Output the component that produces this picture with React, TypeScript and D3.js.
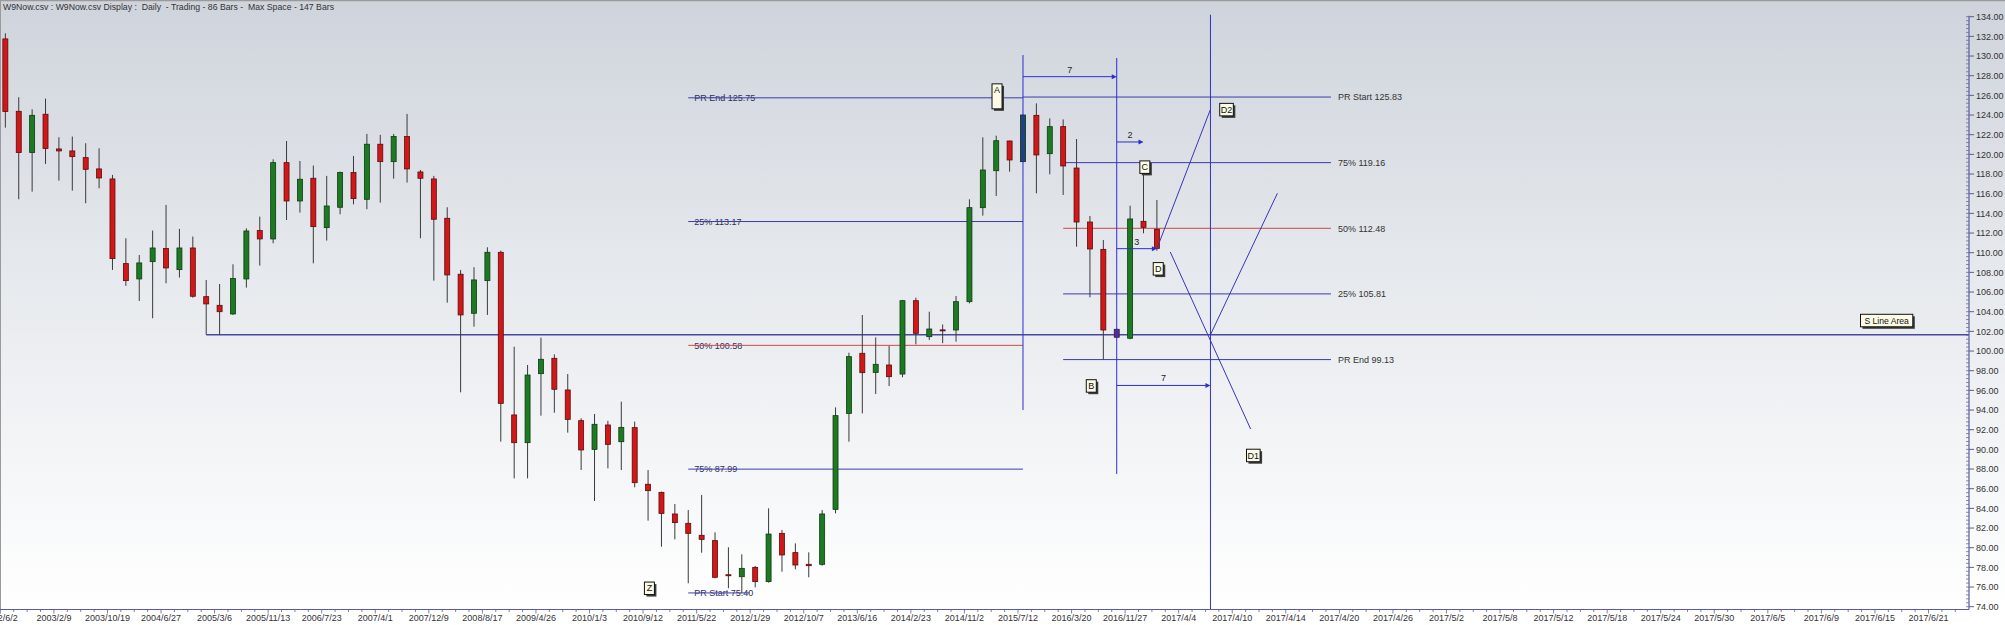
import React from "react";
import * as d3 from "d3";

// ---- price bars (one entry per bar) ----
const barOpen = [
  131.74, 124.38, 120.18, 124.08, 120.55, 120.35, 119.67, 118.52, 117.5, 108.89,
  107.33, 109.09, 110.42, 108.28, 110.48, 105.53, 104.65, 103.77, 107.33, 112.25,
  111.4, 119.16, 115.26, 117.57, 112.55, 114.62, 118.15, 115.43, 121.03, 119.26,
  121.81, 118.21, 117.5, 113.5, 107.81, 103.84, 107.16, 110.04, 93.5, 90.68,
  97.7, 99.26, 96.04, 92.92, 90.0, 92.48, 90.78, 92.21, 86.45, 85.63,
  83.43, 82.48, 81.26, 80.72, 77.25, 77.05, 78.0, 76.55, 81.46, 79.5,
  78.31, 78.31, 83.9, 93.66, 99.77, 97.83, 98.58, 97.66, 105.12, 101.46,
  102.15, 102.14, 105.02, 114.58, 118.34, 121.36, 119.26, 123.97, 120.07, 122.82,
  118.61, 113.12, 110.34, 102.21, 101.3, 113.19, 112.38,
];
const barHigh = [
  132.31, 125.81, 124.58, 125.67, 121.74, 121.81, 121.13, 120.62, 117.91, 111.47,
  109.77, 112.25, 114.86, 112.42, 111.64, 107.23, 106.82, 108.82, 112.48, 113.67,
  119.5, 121.36, 119.33, 118.86, 117.81, 118.25, 119.84, 122.08, 121.98, 122.08,
  124.11, 118.42, 117.81, 114.62, 108.25, 108.52, 110.55, 110.21, 100.44, 98.58,
  101.36, 99.66, 97.66, 93.16, 93.6, 92.9, 94.85, 92.82, 87.9, 85.7,
  84.44, 83.83, 85.36, 81.56, 80.04, 79.33, 78.14, 84.0, 81.8, 80.44,
  79.53, 83.83, 94.27, 99.83, 103.66, 101.39, 100.51, 105.2, 105.43, 104.0,
  102.7, 105.6, 115.43, 121.73, 121.9, 121.4, 124.07, 125.19, 123.66, 123.56,
  121.56, 113.73, 111.29, 102.3, 114.78, 117.9, 115.36,
];
const barLow = [
  122.72, 115.43, 116.21, 119.03, 117.33, 116.31, 115.03, 116.55, 108.25, 106.62,
  105.09, 103.33, 106.89, 107.47, 105.43, 101.66, 101.66, 103.67, 106.45, 108.69,
  110.96, 113.33, 114.08, 108.92, 111.23, 113.91, 114.92, 114.42, 115.09, 117.53,
  117.13, 111.47, 107.16, 104.92, 95.8, 102.48, 103.67, 90.78, 87.05, 87.05,
  93.43, 93.73, 91.7, 87.9, 84.75, 88.07, 87.9, 86.14, 82.75, 80.1,
  80.85, 76.38, 79.49, 76.89, 75.87, 75.4, 75.97, 76.45, 77.56, 77.8,
  76.99, 78.17, 83.49, 90.78, 93.66, 95.63, 96.44, 97.33, 100.68, 101.12,
  100.8, 100.95, 104.85, 113.77, 115.77, 118.24, 119.2, 116.04, 117.97, 115.87,
  110.61, 105.46, 99.13, 101.3, 101.2, 111.97, 110.2,
];
const barClose = [
  124.35, 120.18, 123.97, 120.59, 120.35, 119.77, 118.48, 117.6, 109.4, 107.16,
  108.96, 110.48, 108.45, 110.48, 105.57, 104.79, 104.0, 107.37, 112.21, 111.4,
  119.16, 115.26, 117.47, 112.65, 114.75, 118.15, 115.5, 121.03, 119.26, 121.81,
  118.52, 117.57, 113.4, 107.74, 103.67, 107.23, 110.04, 94.68, 90.68, 97.56,
  99.16, 96.11, 93.05, 89.94, 92.55, 90.51, 92.24, 86.61, 85.8, 83.49,
  82.55, 81.46, 80.85, 76.99, 77.15, 77.9, 76.55, 81.39, 79.26, 78.24,
  78.17, 83.43, 93.43, 99.43, 97.8, 98.65, 97.39, 105.12, 101.8, 102.24,
  102.05, 105.02, 114.58, 118.41, 121.39, 119.43, 124.0, 119.94, 122.82, 118.82,
  113.12, 110.38, 102.14, 101.4, 113.43, 112.58, 110.44,
];

// bars drawn in a highlight colour
const highlightBars = [76, 83];

// ---- axes ----
const totalBars = 147;
const labelEvery = 4;
const dateLabels = [
  "2002/6/2", "2003/2/9", "2003/10/19", "2004/6/27", "2005/3/6", "2005/11/13",
  "2006/7/23", "2007/4/1", "2007/12/9", "2008/8/17", "2009/4/26", "2010/1/3",
  "2010/9/12", "2011/5/22", "2012/1/29", "2012/10/7", "2013/6/16", "2014/2/23",
  "2014/11/2", "2015/7/12", "2016/3/20", "2016/11/27", "2017/4/4", "2017/4/10",
  "2017/4/14", "2017/4/20", "2017/4/26", "2017/5/2", "2017/5/8", "2017/5/12",
  "2017/5/18", "2017/5/24", "2017/5/30", "2017/6/5", "2017/6/9", "2017/6/15",
  "2017/6/21",
];
const priceMin = 74;
const priceMax = 134;
const priceStep = 2;
const priceMinorStep = 0.4;

// ---- retracement sets ----
const leftFibNames = ["PR End 125.75", "25% 113.17", "50% 100.58", "75% 87.99", "PR Start 75.40"];
const leftFibValues = [125.75, 113.17, 100.58, 87.99, 75.4];
const leftFibStartBar = 51;
const leftFibEndBars = [76, 76, 76, 76, 55.6];

const rightFibNames = ["PR Start 125.83", "75% 119.16", "50% 112.48", "25% 105.81", "PR End 99.13"];
const rightFibValues = [125.83, 119.16, 112.48, 105.81, 99.13];
const rightFibStartBars = [76, 79, 79, 79, 79];
const rightFibEndBar = 99;

// ---- support line ----
const sLineValue = 101.66;
const sLineStartBar = 15;

// ---- time markers ----
const markerBars = [76, 83, 90];
const markerTops = [130.1, 129.8, 134.2];
const markerBottoms = [94.0, 87.5, 74];

// ---- bar-count arrows ----
const arrowFromBars = [76, 83, 83, 83];
const arrowToBars = [83, 85, 86, 90];
const arrowValues = [127.9, 121.26, 110.41, 96.5];

// ---- projection lines: [bar, price] pairs ----
const projectionStarts = [[86, 110.41], [87, 110.07], [90, 101.66]];
const projectionEnds = [[90, 124.58], [93, 92.07], [95, 116.04]];

// ---- point tags ----
const tagNames = ["A", "B", "C", "D", "D1", "D2", "Z", "S Line Area"];
const tagBars = [74.06, 81.1, 85.1, 86.1, 93.2, 91.2, 48.1, 140.5];
const tagValues = [125.9, 96.45, 118.7, 108.36, 89.38, 124.55, 75.87, 103.1];
const tagRows = [2, 1, 1, 1, 1, 1, 1, 1];

const titleText =
  "W9Now.csv : W9Now.csv Display :  Daily  - Trading - 86 Bars -  Max Space - 147 Bars";

const FONT = "'Liberation Sans', Arial, Helvetica, sans-serif";

export default function App() {
  const width = 2005;
  const height = 625;
  const plotRight = 1969;
  const axisY = 609.5;

  const x = d3.scaleLinear().domain([-0.4, 146.65]).range([0, plotRight]);
  const y = d3.scaleLinear().domain([priceMin, priceMax]).range([606.7, 16.7]);

  const majorTicks = d3.range(priceMin, priceMax + 0.001, priceStep);
  const minorTicks = d3.range(priceMin, priceMax + 0.001, priceMinorStep);
  const barTicks = d3.range(0, totalBars);

  const fibBlue = "#3b3bb0";
  const vertBlue = "#2e2ecf";
  const redLine = "#cc4a4a";

  const bodyW = 5;

  return (
    <svg
      width={width}
      height={height}
      style={{ position: "absolute", left: 0, top: 0, display: "block" }}
      fontFamily={FONT}
    >
      <defs>
        <linearGradient id="bg" x1="0" y1="0" x2="0" y2="1">
          <stop offset="0" stopColor="#cfd4dc" />
          <stop offset="0.45" stopColor="#e6e9ed" />
          <stop offset="1" stopColor="#ffffff" />
        </linearGradient>
      </defs>

      <rect x={0} y={0} width={width} height={axisY} fill="url(#bg)" />
      <rect x={0} y={axisY} width={width} height={height - axisY} fill="#ffffff" />
      <line x1={0} y1={0.5} x2={width} y2={0.5} stroke="#9a9a9a" strokeWidth={1.5} />
      <line x1={0.5} y1={0} x2={0.5} y2={axisY} stroke="#9a9a9a" strokeWidth={1} />

      <text x={3} y={10} fontSize={9.5} fill="#333" textLength={331} lengthAdjust="spacingAndGlyphs" style={{ whiteSpace: "pre" }}>
        {titleText}
      </text>

      {/* left retracement set: labels sit under their lines */}
      {leftFibNames.map((name, i) => (
        <text key={"lft" + i} x={x(leftFibStartBar) + 6} y={y(leftFibValues[i]) + 3.2} fontSize={9} fill="#30305a">
          {name}
        </text>
      ))}
      {leftFibValues.map((v, i) => (
        <line
          key={"lfl" + i}
          x1={x(leftFibStartBar)}
          x2={x(leftFibEndBars[i])}
          y1={y(v)}
          y2={y(v)}
          stroke={i === 2 ? redLine : fibBlue}
          strokeWidth={1}
        />
      ))}

      {/* right retracement set */}
      {rightFibValues.map((v, i) => (
        <g key={"rf" + i}>
          <line
            x1={x(rightFibStartBars[i])}
            x2={x(rightFibEndBar)}
            y1={y(v)}
            y2={y(v)}
            stroke={i === 2 ? redLine : fibBlue}
            strokeWidth={1}
          />
          <text x={x(rightFibEndBar) + 7} y={y(v) + 3.2} fontSize={9} fill="#333">
            {rightFibNames[i]}
          </text>
        </g>
      ))}

      {/* support line */}
      <line
        x1={x(sLineStartBar)}
        x2={plotRight}
        y1={y(sLineValue)}
        y2={y(sLineValue)}
        stroke="#4848a4"
        strokeWidth={1.4}
      />

      {/* candles */}
      {barOpen.map((o, i) => {
        const c = barClose[i];
        const up = c > o;
        const cx = x(i);
        const top = y(Math.max(o, c));
        const bot = y(Math.min(o, c));
        let fill = up ? "#1e7a22" : "#d01818";
        let stroke = up ? "#0d3b10" : "#5e0a0a";
        if (highlightBars[0] === i) {
          fill = "#1c4d55";
          stroke = "#0e2a30";
        } else if (highlightBars[1] === i) {
          fill = "#5c2d86";
          stroke = "#33184d";
        }
        return (
          <g key={"bar" + i}>
            <line x1={cx} x2={cx} y1={y(barHigh[i])} y2={y(barLow[i])} stroke="#3a3a3a" strokeWidth={1} />
            <rect
              x={cx - bodyW / 2}
              y={top}
              width={bodyW}
              height={Math.max(1, bot - top)}
              fill={fill}
              stroke={stroke}
              strokeWidth={0.8}
            />
          </g>
        );
      })}

      {/* time markers */}
      {markerBars.map((b, i) => (
        <line
          key={"mk" + i}
          x1={x(b)}
          x2={x(b)}
          y1={y(markerTops[i])}
          y2={i === 2 ? axisY : y(markerBottoms[i])}
          stroke={vertBlue}
          strokeWidth={1}
        />
      ))}

      {/* bar-count arrows */}
      {arrowFromBars.map((f, i) => {
        const x1 = x(f);
        const x2 = x(arrowToBars[i]);
        const yy = y(arrowValues[i]);
        return (
          <g key={"ar" + i}>
            <line x1={x1} x2={x2 - 2} y1={yy} y2={yy} stroke={vertBlue} strokeWidth={1} />
            <path d={`M${x2},${yy} L${x2 - 5},${yy - 2.5} L${x2 - 5},${yy + 2.5} Z`} fill={vertBlue} />
            <text x={(x1 + x2) / 2} y={yy - 4} fontSize={9} fill="#222" textAnchor="middle">
              {arrowToBars[i] - f}
            </text>
          </g>
        );
      })}

      {/* projection lines */}
      {projectionStarts.map((s, i) => (
        <line
          key={"pj" + i}
          x1={x(s[0])}
          y1={y(s[1])}
          x2={x(projectionEnds[i][0])}
          y2={y(projectionEnds[i][1])}
          stroke="#3636b8"
          strokeWidth={1}
        />
      ))}

      {/* point tags */}
      {tagNames.map((t, i) => {
        const w = Math.max(10, t.length * 4.3 + 5);
        const h = 12.5 * tagRows[i];
        const cx = x(tagBars[i]);
        const cy = y(tagValues[i]);
        const bx = cx - w / 2;
        const by = cy - h / 2;
        return (
          <g key={"tag" + i}>
            <rect x={bx + 2} y={by + 2} width={w} height={h} fill="#3c3c3c" />
            <rect x={bx} y={by} width={w} height={h} fill="#fbfbe6" stroke="#111" strokeWidth={1} />
            <text x={cx} y={by + 9.3} fontSize={t.length > 3 ? 8.6 : 9} fill="#111" textAnchor="middle">
              {t}
            </text>
          </g>
        );
      })}

      {/* price axis */}
      <line x1={plotRight} x2={plotRight} y1={y(priceMax) - 1} y2={axisY} stroke="#5c5c9c" strokeWidth={1.2} />
      {minorTicks.map((v, i) => (
        <line key={"ymn" + i} x1={plotRight - 3} x2={plotRight} y1={y(v)} y2={y(v)} stroke="#6a6aa6" strokeWidth={0.8} />
      ))}
      {majorTicks.map((v, i) => (
        <g key={"ymj" + i}>
          <line x1={plotRight} x2={plotRight + 5} y1={y(v)} y2={y(v)} stroke="#5c5c9c" strokeWidth={1} />
          <text x={plotRight + 7} y={y(v) + 3.2} fontSize={9} fill="#333">
            {v.toFixed(2)}
          </text>
        </g>
      ))}

      {/* time axis */}
      <line x1={0} x2={plotRight} y1={axisY} y2={axisY} stroke="#5c5c9c" strokeWidth={1.2} />
      {barTicks.map((b) => (
        <line
          key={"xt" + b}
          x1={x(b) - 5}
          x2={x(b) - 5}
          y1={axisY}
          y2={axisY + (b % labelEvery === 0 ? 4 : 2.5)}
          stroke="#5c5c9c"
          strokeWidth={0.8}
        />
      ))}
      {dateLabels.map((d, i) => (
        <text key={"xl" + i} x={x(i * labelEvery) - 5} y={621} fontSize={9} fill="#333" textAnchor="middle">
          {d}
        </text>
      ))}
    </svg>
  );
}
